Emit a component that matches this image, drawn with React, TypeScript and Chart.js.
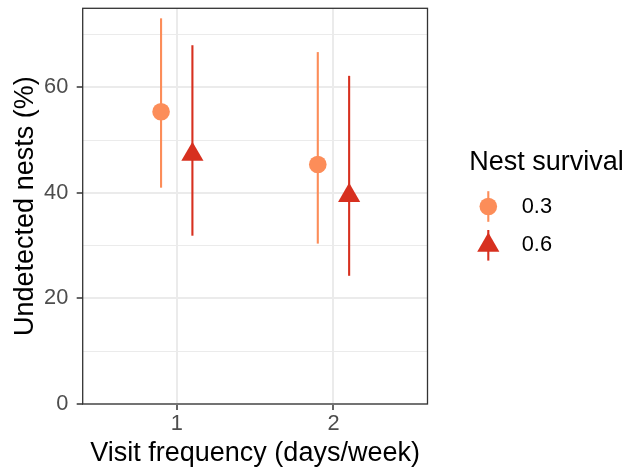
import React, { useEffect, useRef } from 'react';
import { Chart, registerables } from 'chart.js';

Chart.register(...registerables);

// ---- data ----
const categories = [1, 2];
const categoryLabels = ['1', '2'];
const seriesNames = ['0.3', '0.6'];
const mean03 = [55.4, 45.4];
const lower03 = [41.0, 30.4];
const upper03 = [73.1, 66.7];
const mean06 = [47.3, 39.5];
const lower06 = [31.9, 24.3];
const upper06 = [68.0, 62.2];
const dodge = [-0.1, 0.1];
const yTicks = [0, 10, 20, 30, 40, 50, 60, 70];
const xTitle = 'Visit frequency (days/week)';
const yTitle = 'Undetected nests (%)';
const legendTitle = 'Nest survival';
const colors = ['#FC8D59', '#D7301F'];

const FONT = "'Liberation Sans', Arial, Helvetica, sans-serif";

export default function App() {
  const ref = useRef<HTMLCanvasElement>(null);

  useEffect(() => {
    document.body.style.margin = '0';
    const canvas = ref.current;
    if (!canvas) return;

    const series = [
      { name: seriesNames[0], mean: mean03, lower: lower03, upper: upper03, color: colors[0], style: 'circle', radius: 8.8 },
      { name: seriesNames[1], mean: mean06, lower: lower06, upper: upper06, color: colors[1], style: 'triangle', radius: 12.8 },
    ];

    const errorBars = {
      id: 'errorBars',
      beforeDatasetsDraw(chart: any) {
        const { ctx } = chart;
        const x = chart.scales.x;
        const y = chart.scales.y;
        ctx.save();
        series.forEach((s, si) => {
          ctx.strokeStyle = s.color;
          ctx.lineWidth = 2.1;
          categories.forEach((c, i) => {
            const px = x.getPixelForValue(c + dodge[si]);
            ctx.beginPath();
            ctx.moveTo(px, y.getPixelForValue(s.lower[i]));
            ctx.lineTo(px, y.getPixelForValue(s.upper[i]));
            ctx.stroke();
          });
        });
        ctx.restore();
      },
    };

    const deco = {
      id: 'deco',
      afterDraw(chart: any) {
        const { ctx, chartArea } = chart;
        ctx.save();
        // panel border
        ctx.strokeStyle = '#333333';
        ctx.lineWidth = 1.3;
        ctx.strokeRect(chartArea.left, chartArea.top, chartArea.right - chartArea.left, chartArea.bottom - chartArea.top);

        // axis titles
        ctx.fillStyle = '#000000';
        ctx.font = `27px ${FONT}`;
        ctx.textAlign = 'center';
        ctx.textBaseline = 'alphabetic';
        ctx.fillText(xTitle, (chartArea.left + chartArea.right) / 2, 460.5);
        ctx.save();
        ctx.translate(33, (chartArea.top + chartArea.bottom) / 2);
        ctx.rotate(-Math.PI / 2);
        ctx.fillText(yTitle, 0, 0);
        ctx.restore();

        // legend
        ctx.textAlign = 'left';
        ctx.fillText(legendTitle, 469.3, 170);
        const keyX = 488.3;
        const keyYs = [206.5, 245.3];
        series.forEach((s, si) => {
          const ky = keyYs[si];
          ctx.strokeStyle = s.color;
          ctx.fillStyle = s.color;
          ctx.lineWidth = 2.1;
          ctx.beginPath();
          ctx.moveTo(keyX, ky - 15.3);
          ctx.lineTo(keyX, ky + 15.3);
          ctx.stroke();
          ctx.beginPath();
          if (s.style === 'circle') {
            ctx.arc(keyX, ky, s.radius, 0, Math.PI * 2);
          } else {
            const r = s.radius;
            ctx.moveTo(keyX, ky - r);
            ctx.lineTo(keyX + r * Math.sin((2 * Math.PI) / 3), ky - r * Math.cos((2 * Math.PI) / 3));
            ctx.lineTo(keyX + r * Math.sin((4 * Math.PI) / 3), ky - r * Math.cos((4 * Math.PI) / 3));
            ctx.closePath();
          }
          ctx.fill();
          ctx.fillStyle = '#000000';
          ctx.font = `21.8px ${FONT}`;
          ctx.textBaseline = 'middle';
          ctx.fillText(s.name, 521.7, ky);
          ctx.textBaseline = 'alphabetic';
          ctx.font = `27px ${FONT}`;
        });
        ctx.restore();
      },
    };

    const chart = new Chart(canvas, {
      type: 'scatter',
      data: {
        datasets: series.map((s, si) => ({
          type: 'scatter',
          label: s.name,
          data: categories.map((c, i) => ({ x: c + dodge[si], y: s.mean[i] })),
          pointStyle: s.style,
          pointRadius: s.radius,
          pointHoverRadius: s.radius,
          backgroundColor: s.color,
          borderColor: s.color,
          borderWidth: 0,
        })),
      } as any,
      options: {
        animation: false,
        responsive: false,
        maintainAspectRatio: false,
        devicePixelRatio: 1,
        events: [],
        layout: { autoPadding: false, padding: { top: 8.3, right: 198.5, bottom: 0, left: 0 } },
        plugins: { legend: { display: false }, tooltip: { enabled: false } },
        scales: {
          x: {
            type: 'linear',
            min: 0.4,
            max: 2.6,
            afterBuildTicks: (s: any) => {
              s.ticks = categories.map((v) => ({ value: v }));
            },
            afterFit: (s: any) => {
              s.height = 68;
              s.paddingLeft = 0;
              s.paddingRight = 0;
            },
            ticks: {
              callback: (v: any) => {
                const i = categories.indexOf(Number(v));
                return i >= 0 ? categoryLabels[i] : '';
              },
              color: '#4D4D4D',
              font: { size: 21.8, family: FONT },
              padding: 1.1,
              maxRotation: 0,
              minRotation: 0,
              autoSkip: false,
            },
            grid: {
              color: '#EBEBEB',
              lineWidth: 2,
              tickLength: 6,
              tickColor: '#333333',
              tickWidth: 1.5,
            },
            border: { display: false },
          },
          y: {
            type: 'linear',
            min: 0,
            max: 75,
            afterBuildTicks: (s: any) => {
              s.ticks = yTicks.map((v) => ({ value: v }));
            },
            afterFit: (s: any) => {
              s.width = 82.7;
              s.paddingTop = 0;
              s.paddingBottom = 0;
            },
            ticks: {
              callback: (v: any) => (Number(v) % 20 === 0 ? String(v) : ''),
              color: '#4D4D4D',
              font: { size: 21.8, family: FONT },
              padding: 8.4,
              autoSkip: false,
            },
            grid: {
              color: '#EBEBEB',
              lineWidth: (c: any) => (c.tick && c.tick.value % 20 === 0 ? 2 : 1),
              tickLength: 6,
              tickColor: (c: any) => (c.tick && c.tick.value % 20 === 0 ? '#333333' : 'rgba(0,0,0,0)'),
              tickWidth: 1.5,
            },
            border: { display: false },
          },
        },
      } as any,
      plugins: [errorBars, deco],
    });

    return () => chart.destroy();
  }, []);

  return (
    <div style={{ position: 'absolute', left: 0, top: 0, width: 626, height: 472, background: '#ffffff' }}>
      <canvas ref={ref} width={626} height={472} style={{ display: 'block', width: 626, height: 472 }} />
    </div>
  );
}
